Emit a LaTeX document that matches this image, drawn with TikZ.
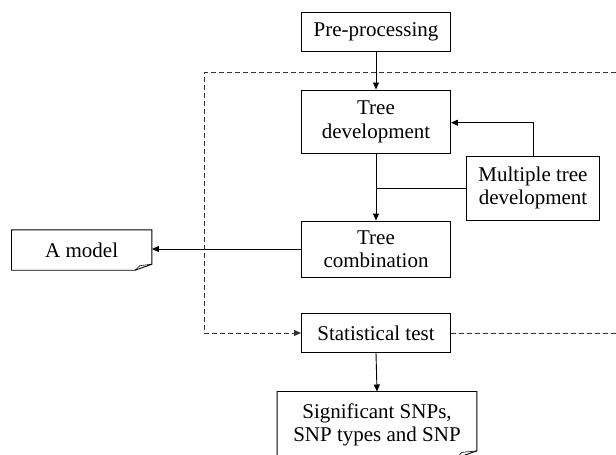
\documentclass[tikz,border=0pt]{standalone}
\usepackage{fontspec}
\setmainfont{Liberation Serif}
\usetikzlibrary{arrows.meta}
\tikzset{
  box/.style={draw, line width=0.9pt, inner sep=0pt, align=center,
    font=\fontsize{21}{23.5}\selectfont},
  plain/.style={inner sep=0pt, align=center, font=\fontsize{21}{23.5}\selectfont},
  conn/.style={line width=0.9pt},
  arr/.style={line width=0.9pt, -{Triangle[length=7pt,width=6pt]}},
  dsh/.style={line width=0.9pt, dash pattern=on 5pt off 3pt, draw=black!80},
}
\begin{document}
\begin{tikzpicture}[x=1pt,y=-1pt]
\useasboundingbox (0,0) rectangle (616,455);
\node[box, minimum width=149pt, minimum height=39pt] (pre) at (376,32) {Pre-processing};
\node[box, minimum width=149pt, minimum height=63.5pt] (treedev) at (376,121.7) {Tree\\development};
\node[box, minimum width=132.6pt, minimum height=64pt] (multi) at (533,188) {Multiple tree\\development};
\node[box, minimum width=149pt, minimum height=56pt] (treecomb) at (376,249) {Tree\\combination};
\node[box, minimum width=149pt, minimum height=39pt] (stat) at (376,333) {Statistical test};
\node[plain, minimum width=140pt, minimum height=40pt] (amodel) at (81.7,250) {A model};
\node[plain, minimum width=199.3pt, minimum height=66pt] (sig) at (377,424.7) {Significant SNPs,\\SNP types and SNP};
% note shapes
\draw[conn] (amodel.north west) -- (amodel.north east) -- ([yshift=6pt]amodel.south east)
  -- ([xshift=-16.7pt]amodel.south east) -- (amodel.south west) -- cycle;
\draw[line width=0.6pt] ([xshift=-16.7pt]amodel.south east) -- ([xshift=-12pt,yshift=4.5pt]amodel.south east) -- ([yshift=6pt]amodel.south east);
\draw[conn] (sig.north west) -- (sig.north east) -- ([yshift=7pt]sig.south east)
  -- ([xshift=-20pt]sig.south east) -- (sig.south west) -- cycle;
\draw[line width=0.6pt] ([xshift=-20pt]sig.south east) -- ([xshift=-15pt,yshift=5.5pt]sig.south east) -- ([yshift=7pt]sig.south east);
% connectors
\draw[arr] (pre.south) -- (treedev.north);
\draw[arr] (multi.north) |- ([yshift=-1pt]treedev.east);
\draw[arr] (treedev.south) -- (treecomb.north);
\draw[conn] (multi.west) -- (multi.west -| treedev.south);
\draw[arr] (treecomb.west) -- (treecomb.west -| amodel.east);
\draw[arr] (stat.south) -- (sig.north);
% dashed loop
\coordinate (dtr) at (616,72.7);
\coordinate (dtl) at (204,72.7);
\coordinate (dr) at (616,333);
\draw[dsh, -{Triangle[length=7pt,width=6pt]}] (dtr) -- (dtl) |- (stat.west);
\draw[dsh] (stat.east) -- (dr);
\end{tikzpicture}
\end{document}
